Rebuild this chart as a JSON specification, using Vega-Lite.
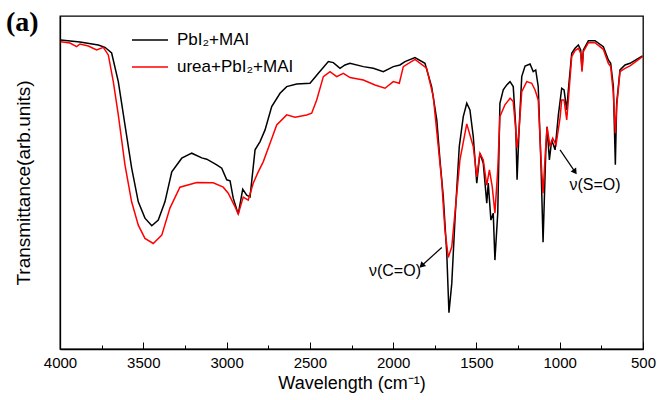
{
  "$schema": "https://vega.github.io/schema/vega-lite/v6.json",
  "width": 583,
  "height": 333,
  "autosize": "none",
  "padding": {"left": 60, "top": 16, "right": 14, "bottom": 51},
  "background": "white",
  "config": {
    "view": {"stroke": "black", "strokeWidth": 1.3},
    "font": "Liberation Sans",
    "axis": {"grid": false, "domainColor": "black", "domainWidth": 1.3, "tickColor": "black", "labelColor": "black", "titleColor": "black", "titleFontWeight": "normal"}
  },
  "title": {"text": "(a)", "anchor": "start", "frame": "group", "dx": -54, "offset": 0, "baseline": "top", "dy": 21, "font": "Liberation Serif", "fontSize": 28, "fontWeight": "bold", "color": "black"},
  "datasets": {
    "spectra": [
      {"sample": "PbI₂+MAI", "wavenumber": 3996, "transmittance": 92.8},
      {"sample": "PbI₂+MAI", "wavenumber": 3880, "transmittance": 92.2},
      {"sample": "PbI₂+MAI", "wavenumber": 3770, "transmittance": 91.3},
      {"sample": "PbI₂+MAI", "wavenumber": 3730, "transmittance": 90.6},
      {"sample": "PbI₂+MAI", "wavenumber": 3690, "transmittance": 88.9},
      {"sample": "PbI₂+MAI", "wavenumber": 3650, "transmittance": 80.3},
      {"sample": "PbI₂+MAI", "wavenumber": 3610, "transmittance": 67.3},
      {"sample": "PbI₂+MAI", "wavenumber": 3570, "transmittance": 54.4},
      {"sample": "PbI₂+MAI", "wavenumber": 3530, "transmittance": 44.2},
      {"sample": "PbI₂+MAI", "wavenumber": 3490, "transmittance": 39.3},
      {"sample": "PbI₂+MAI", "wavenumber": 3449, "transmittance": 37.0},
      {"sample": "PbI₂+MAI", "wavenumber": 3410, "transmittance": 38.7},
      {"sample": "PbI₂+MAI", "wavenumber": 3370, "transmittance": 44.2},
      {"sample": "PbI₂+MAI", "wavenumber": 3329, "transmittance": 53.2},
      {"sample": "PbI₂+MAI", "wavenumber": 3269, "transmittance": 57.3},
      {"sample": "PbI₂+MAI", "wavenumber": 3209, "transmittance": 58.8},
      {"sample": "PbI₂+MAI", "wavenumber": 3149, "transmittance": 57.4},
      {"sample": "PbI₂+MAI", "wavenumber": 3119, "transmittance": 57.0},
      {"sample": "PbI₂+MAI", "wavenumber": 3059, "transmittance": 55.3},
      {"sample": "PbI₂+MAI", "wavenumber": 3029, "transmittance": 54.3},
      {"sample": "PbI₂+MAI", "wavenumber": 2999, "transmittance": 50.8},
      {"sample": "PbI₂+MAI", "wavenumber": 2979, "transmittance": 50.5},
      {"sample": "PbI₂+MAI", "wavenumber": 2960, "transmittance": 45.3},
      {"sample": "PbI₂+MAI", "wavenumber": 2930, "transmittance": 40.5},
      {"sample": "PbI₂+MAI", "wavenumber": 2903, "transmittance": 48.0},
      {"sample": "PbI₂+MAI", "wavenumber": 2879, "transmittance": 46.2},
      {"sample": "PbI₂+MAI", "wavenumber": 2859, "transmittance": 45.7},
      {"sample": "PbI₂+MAI", "wavenumber": 2829, "transmittance": 59.8},
      {"sample": "PbI₂+MAI", "wavenumber": 2799, "transmittance": 62.3},
      {"sample": "PbI₂+MAI", "wavenumber": 2769, "transmittance": 65.8},
      {"sample": "PbI₂+MAI", "wavenumber": 2729, "transmittance": 72.8},
      {"sample": "PbI₂+MAI", "wavenumber": 2679, "transmittance": 76.8},
      {"sample": "PbI₂+MAI", "wavenumber": 2639, "transmittance": 78.8},
      {"sample": "PbI₂+MAI", "wavenumber": 2579, "transmittance": 79.6},
      {"sample": "PbI₂+MAI", "wavenumber": 2499, "transmittance": 79.8},
      {"sample": "PbI₂+MAI", "wavenumber": 2449, "transmittance": 82.8},
      {"sample": "PbI₂+MAI", "wavenumber": 2389, "transmittance": 86.3},
      {"sample": "PbI₂+MAI", "wavenumber": 2359, "transmittance": 86.0},
      {"sample": "PbI₂+MAI", "wavenumber": 2319, "transmittance": 84.3},
      {"sample": "PbI₂+MAI", "wavenumber": 2289, "transmittance": 85.3},
      {"sample": "PbI₂+MAI", "wavenumber": 2259, "transmittance": 85.8},
      {"sample": "PbI₂+MAI", "wavenumber": 2179, "transmittance": 84.8},
      {"sample": "PbI₂+MAI", "wavenumber": 2119, "transmittance": 84.3},
      {"sample": "PbI₂+MAI", "wavenumber": 2059, "transmittance": 83.3},
      {"sample": "PbI₂+MAI", "wavenumber": 1999, "transmittance": 84.8},
      {"sample": "PbI₂+MAI", "wavenumber": 1959, "transmittance": 85.3},
      {"sample": "PbI₂+MAI", "wavenumber": 1929, "transmittance": 86.3},
      {"sample": "PbI₂+MAI", "wavenumber": 1869, "transmittance": 87.5},
      {"sample": "PbI₂+MAI", "wavenumber": 1809, "transmittance": 85.8},
      {"sample": "PbI₂+MAI", "wavenumber": 1769, "transmittance": 78.8},
      {"sample": "PbI₂+MAI", "wavenumber": 1738, "transmittance": 68.8},
      {"sample": "PbI₂+MAI", "wavenumber": 1719, "transmittance": 56.8},
      {"sample": "PbI₂+MAI", "wavenumber": 1699, "transmittance": 45.7},
      {"sample": "PbI₂+MAI", "wavenumber": 1678, "transmittance": 28.7},
      {"sample": "PbI₂+MAI", "wavenumber": 1665, "transmittance": 10.9},
      {"sample": "PbI₂+MAI", "wavenumber": 1648, "transmittance": 19.7},
      {"sample": "PbI₂+MAI", "wavenumber": 1629, "transmittance": 38.7},
      {"sample": "PbI₂+MAI", "wavenumber": 1603, "transmittance": 60.8},
      {"sample": "PbI₂+MAI", "wavenumber": 1579, "transmittance": 69.8},
      {"sample": "PbI₂+MAI", "wavenumber": 1558, "transmittance": 73.8},
      {"sample": "PbI₂+MAI", "wavenumber": 1539, "transmittance": 71.8},
      {"sample": "PbI₂+MAI", "wavenumber": 1519, "transmittance": 63.8},
      {"sample": "PbI₂+MAI", "wavenumber": 1498, "transmittance": 49.8},
      {"sample": "PbI₂+MAI", "wavenumber": 1479, "transmittance": 58.8},
      {"sample": "PbI₂+MAI", "wavenumber": 1459, "transmittance": 55.8},
      {"sample": "PbI₂+MAI", "wavenumber": 1438, "transmittance": 43.8},
      {"sample": "PbI₂+MAI", "wavenumber": 1429, "transmittance": 49.8},
      {"sample": "PbI₂+MAI", "wavenumber": 1413, "transmittance": 38.7},
      {"sample": "PbI₂+MAI", "wavenumber": 1399, "transmittance": 40.8},
      {"sample": "PbI₂+MAI", "wavenumber": 1389, "transmittance": 26.7},
      {"sample": "PbI₂+MAI", "wavenumber": 1372, "transmittance": 40.8},
      {"sample": "PbI₂+MAI", "wavenumber": 1359, "transmittance": 73.8},
      {"sample": "PbI₂+MAI", "wavenumber": 1339, "transmittance": 77.8},
      {"sample": "PbI₂+MAI", "wavenumber": 1318, "transmittance": 79.3},
      {"sample": "PbI₂+MAI", "wavenumber": 1298, "transmittance": 80.3},
      {"sample": "PbI₂+MAI", "wavenumber": 1279, "transmittance": 78.8},
      {"sample": "PbI₂+MAI", "wavenumber": 1264, "transmittance": 66.8},
      {"sample": "PbI₂+MAI", "wavenumber": 1256, "transmittance": 50.8},
      {"sample": "PbI₂+MAI", "wavenumber": 1244, "transmittance": 65.8},
      {"sample": "PbI₂+MAI", "wavenumber": 1228, "transmittance": 81.8},
      {"sample": "PbI₂+MAI", "wavenumber": 1208, "transmittance": 85.0},
      {"sample": "PbI₂+MAI", "wavenumber": 1178, "transmittance": 85.6},
      {"sample": "PbI₂+MAI", "wavenumber": 1159, "transmittance": 83.3},
      {"sample": "PbI₂+MAI", "wavenumber": 1144, "transmittance": 83.8},
      {"sample": "PbI₂+MAI", "wavenumber": 1129, "transmittance": 78.8},
      {"sample": "PbI₂+MAI", "wavenumber": 1112, "transmittance": 54.7},
      {"sample": "PbI₂+MAI", "wavenumber": 1100, "transmittance": 32.1},
      {"sample": "PbI₂+MAI", "wavenumber": 1084, "transmittance": 58.8},
      {"sample": "PbI₂+MAI", "wavenumber": 1076, "transmittance": 66.7},
      {"sample": "PbI₂+MAI", "wavenumber": 1062, "transmittance": 56.8},
      {"sample": "PbI₂+MAI", "wavenumber": 1048, "transmittance": 62.8},
      {"sample": "PbI₂+MAI", "wavenumber": 1028, "transmittance": 59.8},
      {"sample": "PbI₂+MAI", "wavenumber": 1008, "transmittance": 70.3},
      {"sample": "PbI₂+MAI", "wavenumber": 988, "transmittance": 78.3},
      {"sample": "PbI₂+MAI", "wavenumber": 974, "transmittance": 77.8},
      {"sample": "PbI₂+MAI", "wavenumber": 958, "transmittance": 71.8},
      {"sample": "PbI₂+MAI", "wavenumber": 948, "transmittance": 77.8},
      {"sample": "PbI₂+MAI", "wavenumber": 928, "transmittance": 88.8},
      {"sample": "PbI₂+MAI", "wavenumber": 908, "transmittance": 90.3},
      {"sample": "PbI₂+MAI", "wavenumber": 888, "transmittance": 91.3},
      {"sample": "PbI₂+MAI", "wavenumber": 874, "transmittance": 89.8},
      {"sample": "PbI₂+MAI", "wavenumber": 866, "transmittance": 83.8},
      {"sample": "PbI₂+MAI", "wavenumber": 858, "transmittance": 89.8},
      {"sample": "PbI₂+MAI", "wavenumber": 828, "transmittance": 92.6},
      {"sample": "PbI₂+MAI", "wavenumber": 788, "transmittance": 92.6},
      {"sample": "PbI₂+MAI", "wavenumber": 738, "transmittance": 90.8},
      {"sample": "PbI₂+MAI", "wavenumber": 708, "transmittance": 86.8},
      {"sample": "PbI₂+MAI", "wavenumber": 694, "transmittance": 85.8},
      {"sample": "PbI₂+MAI", "wavenumber": 678, "transmittance": 78.8},
      {"sample": "PbI₂+MAI", "wavenumber": 666, "transmittance": 55.3},
      {"sample": "PbI₂+MAI", "wavenumber": 658, "transmittance": 73.8},
      {"sample": "PbI₂+MAI", "wavenumber": 638, "transmittance": 83.8},
      {"sample": "PbI₂+MAI", "wavenumber": 608, "transmittance": 85.3},
      {"sample": "PbI₂+MAI", "wavenumber": 578, "transmittance": 85.8},
      {"sample": "PbI₂+MAI", "wavenumber": 503, "transmittance": 88.0},
      {"sample": "urea+PbI₂+MAI", "wavenumber": 3996, "transmittance": 92.3},
      {"sample": "urea+PbI₂+MAI", "wavenumber": 3940, "transmittance": 91.9},
      {"sample": "urea+PbI₂+MAI", "wavenumber": 3900, "transmittance": 90.8},
      {"sample": "urea+PbI₂+MAI", "wavenumber": 3880, "transmittance": 91.6},
      {"sample": "urea+PbI₂+MAI", "wavenumber": 3830, "transmittance": 91.0},
      {"sample": "urea+PbI₂+MAI", "wavenumber": 3780, "transmittance": 89.8},
      {"sample": "urea+PbI₂+MAI", "wavenumber": 3740, "transmittance": 90.6},
      {"sample": "urea+PbI₂+MAI", "wavenumber": 3710, "transmittance": 88.3},
      {"sample": "urea+PbI₂+MAI", "wavenumber": 3680, "transmittance": 80.3},
      {"sample": "urea+PbI₂+MAI", "wavenumber": 3650, "transmittance": 70.3},
      {"sample": "urea+PbI₂+MAI", "wavenumber": 3610, "transmittance": 55.3},
      {"sample": "urea+PbI₂+MAI", "wavenumber": 3570, "transmittance": 44.2},
      {"sample": "urea+PbI₂+MAI", "wavenumber": 3530, "transmittance": 37.2},
      {"sample": "urea+PbI₂+MAI", "wavenumber": 3490, "transmittance": 33.2},
      {"sample": "urea+PbI₂+MAI", "wavenumber": 3440, "transmittance": 31.7},
      {"sample": "urea+PbI₂+MAI", "wavenumber": 3389, "transmittance": 34.2},
      {"sample": "urea+PbI₂+MAI", "wavenumber": 3340, "transmittance": 42.3},
      {"sample": "urea+PbI₂+MAI", "wavenumber": 3280, "transmittance": 48.6},
      {"sample": "urea+PbI₂+MAI", "wavenumber": 3179, "transmittance": 50.0},
      {"sample": "urea+PbI₂+MAI", "wavenumber": 3080, "transmittance": 49.9},
      {"sample": "urea+PbI₂+MAI", "wavenumber": 3020, "transmittance": 48.6},
      {"sample": "urea+PbI₂+MAI", "wavenumber": 2990, "transmittance": 46.8},
      {"sample": "urea+PbI₂+MAI", "wavenumber": 2949, "transmittance": 42.7},
      {"sample": "urea+PbI₂+MAI", "wavenumber": 2930, "transmittance": 40.5},
      {"sample": "urea+PbI₂+MAI", "wavenumber": 2900, "transmittance": 45.6},
      {"sample": "urea+PbI₂+MAI", "wavenumber": 2870, "transmittance": 44.7},
      {"sample": "urea+PbI₂+MAI", "wavenumber": 2840, "transmittance": 49.8},
      {"sample": "urea+PbI₂+MAI", "wavenumber": 2810, "transmittance": 53.2},
      {"sample": "urea+PbI₂+MAI", "wavenumber": 2780, "transmittance": 56.2},
      {"sample": "urea+PbI₂+MAI", "wavenumber": 2739, "transmittance": 61.8},
      {"sample": "urea+PbI₂+MAI", "wavenumber": 2699, "transmittance": 67.3},
      {"sample": "urea+PbI₂+MAI", "wavenumber": 2639, "transmittance": 70.3},
      {"sample": "urea+PbI₂+MAI", "wavenumber": 2589, "transmittance": 69.6},
      {"sample": "urea+PbI₂+MAI", "wavenumber": 2519, "transmittance": 70.3},
      {"sample": "urea+PbI₂+MAI", "wavenumber": 2489, "transmittance": 70.8},
      {"sample": "urea+PbI₂+MAI", "wavenumber": 2459, "transmittance": 74.8},
      {"sample": "urea+PbI₂+MAI", "wavenumber": 2419, "transmittance": 81.8},
      {"sample": "urea+PbI₂+MAI", "wavenumber": 2379, "transmittance": 83.3},
      {"sample": "urea+PbI₂+MAI", "wavenumber": 2339, "transmittance": 81.8},
      {"sample": "urea+PbI₂+MAI", "wavenumber": 2299, "transmittance": 82.8},
      {"sample": "urea+PbI₂+MAI", "wavenumber": 2259, "transmittance": 81.5},
      {"sample": "urea+PbI₂+MAI", "wavenumber": 2179, "transmittance": 80.8},
      {"sample": "urea+PbI₂+MAI", "wavenumber": 2109, "transmittance": 79.3},
      {"sample": "urea+PbI₂+MAI", "wavenumber": 2049, "transmittance": 78.3},
      {"sample": "urea+PbI₂+MAI", "wavenumber": 1999, "transmittance": 80.3},
      {"sample": "urea+PbI₂+MAI", "wavenumber": 1963, "transmittance": 79.8},
      {"sample": "urea+PbI₂+MAI", "wavenumber": 1939, "transmittance": 84.8},
      {"sample": "urea+PbI₂+MAI", "wavenumber": 1869, "transmittance": 87.0},
      {"sample": "urea+PbI₂+MAI", "wavenumber": 1799, "transmittance": 84.3},
      {"sample": "urea+PbI₂+MAI", "wavenumber": 1759, "transmittance": 75.8},
      {"sample": "urea+PbI₂+MAI", "wavenumber": 1729, "transmittance": 60.8},
      {"sample": "urea+PbI₂+MAI", "wavenumber": 1709, "transmittance": 50.8},
      {"sample": "urea+PbI₂+MAI", "wavenumber": 1689, "transmittance": 35.7},
      {"sample": "urea+PbI₂+MAI", "wavenumber": 1669, "transmittance": 27.5},
      {"sample": "urea+PbI₂+MAI", "wavenumber": 1648, "transmittance": 30.7},
      {"sample": "urea+PbI₂+MAI", "wavenumber": 1629, "transmittance": 40.8},
      {"sample": "urea+PbI₂+MAI", "wavenumber": 1599, "transmittance": 56.8},
      {"sample": "urea+PbI₂+MAI", "wavenumber": 1558, "transmittance": 67.6},
      {"sample": "urea+PbI₂+MAI", "wavenumber": 1519, "transmittance": 60.8},
      {"sample": "urea+PbI₂+MAI", "wavenumber": 1498, "transmittance": 51.7},
      {"sample": "urea+PbI₂+MAI", "wavenumber": 1479, "transmittance": 58.8},
      {"sample": "urea+PbI₂+MAI", "wavenumber": 1459, "transmittance": 56.8},
      {"sample": "urea+PbI₂+MAI", "wavenumber": 1438, "transmittance": 49.2},
      {"sample": "urea+PbI₂+MAI", "wavenumber": 1422, "transmittance": 53.8},
      {"sample": "urea+PbI₂+MAI", "wavenumber": 1405, "transmittance": 48.7},
      {"sample": "urea+PbI₂+MAI", "wavenumber": 1389, "transmittance": 40.8},
      {"sample": "urea+PbI₂+MAI", "wavenumber": 1372, "transmittance": 53.8},
      {"sample": "urea+PbI₂+MAI", "wavenumber": 1359, "transmittance": 69.8},
      {"sample": "urea+PbI₂+MAI", "wavenumber": 1329, "transmittance": 73.3},
      {"sample": "urea+PbI₂+MAI", "wavenumber": 1298, "transmittance": 75.3},
      {"sample": "urea+PbI₂+MAI", "wavenumber": 1279, "transmittance": 74.3},
      {"sample": "urea+PbI₂+MAI", "wavenumber": 1264, "transmittance": 65.8},
      {"sample": "urea+PbI₂+MAI", "wavenumber": 1256, "transmittance": 60.3},
      {"sample": "urea+PbI₂+MAI", "wavenumber": 1244, "transmittance": 65.8},
      {"sample": "urea+PbI₂+MAI", "wavenumber": 1228, "transmittance": 77.3},
      {"sample": "urea+PbI₂+MAI", "wavenumber": 1198, "transmittance": 80.3},
      {"sample": "urea+PbI₂+MAI", "wavenumber": 1168, "transmittance": 79.8},
      {"sample": "urea+PbI₂+MAI", "wavenumber": 1148, "transmittance": 77.8},
      {"sample": "urea+PbI₂+MAI", "wavenumber": 1129, "transmittance": 74.8},
      {"sample": "urea+PbI₂+MAI", "wavenumber": 1112, "transmittance": 56.8},
      {"sample": "urea+PbI₂+MAI", "wavenumber": 1100, "transmittance": 46.8},
      {"sample": "urea+PbI₂+MAI", "wavenumber": 1084, "transmittance": 60.8},
      {"sample": "urea+PbI₂+MAI", "wavenumber": 1076, "transmittance": 66.7},
      {"sample": "urea+PbI₂+MAI", "wavenumber": 1058, "transmittance": 60.8},
      {"sample": "urea+PbI₂+MAI", "wavenumber": 1042, "transmittance": 63.3},
      {"sample": "urea+PbI₂+MAI", "wavenumber": 1022, "transmittance": 61.3},
      {"sample": "urea+PbI₂+MAI", "wavenumber": 998, "transmittance": 69.4},
      {"sample": "urea+PbI₂+MAI", "wavenumber": 988, "transmittance": 74.8},
      {"sample": "urea+PbI₂+MAI", "wavenumber": 974, "transmittance": 74.8},
      {"sample": "urea+PbI₂+MAI", "wavenumber": 958, "transmittance": 68.8},
      {"sample": "urea+PbI₂+MAI", "wavenumber": 948, "transmittance": 74.8},
      {"sample": "urea+PbI₂+MAI", "wavenumber": 928, "transmittance": 87.8},
      {"sample": "urea+PbI₂+MAI", "wavenumber": 908, "transmittance": 89.6},
      {"sample": "urea+PbI₂+MAI", "wavenumber": 888, "transmittance": 90.3},
      {"sample": "urea+PbI₂+MAI", "wavenumber": 874, "transmittance": 88.8},
      {"sample": "urea+PbI₂+MAI", "wavenumber": 866, "transmittance": 83.3},
      {"sample": "urea+PbI₂+MAI", "wavenumber": 858, "transmittance": 89.3},
      {"sample": "urea+PbI₂+MAI", "wavenumber": 828, "transmittance": 92.0},
      {"sample": "urea+PbI₂+MAI", "wavenumber": 788, "transmittance": 92.0},
      {"sample": "urea+PbI₂+MAI", "wavenumber": 738, "transmittance": 90.0},
      {"sample": "urea+PbI₂+MAI", "wavenumber": 708, "transmittance": 85.8},
      {"sample": "urea+PbI₂+MAI", "wavenumber": 694, "transmittance": 84.8},
      {"sample": "urea+PbI₂+MAI", "wavenumber": 678, "transmittance": 76.8},
      {"sample": "urea+PbI₂+MAI", "wavenumber": 666, "transmittance": 64.8},
      {"sample": "urea+PbI₂+MAI", "wavenumber": 658, "transmittance": 72.8},
      {"sample": "urea+PbI₂+MAI", "wavenumber": 638, "transmittance": 83.3},
      {"sample": "urea+PbI₂+MAI", "wavenumber": 608, "transmittance": 84.3},
      {"sample": "urea+PbI₂+MAI", "wavenumber": 578, "transmittance": 85.0},
      {"sample": "urea+PbI₂+MAI", "wavenumber": 503, "transmittance": 87.8}
    ],
    "arrows": [
      {"label": "ν(C=O)", "wavenumber": 1708, "transmittance": 30.5, "x_end": 1829, "y_end": 25.0, "angle": 225, "text_x": 1989, "text_y": 23.5},
      {"label": "ν(S=O)", "wavenumber": 998, "transmittance": 59.8, "x_end": 908, "y_end": 53.2, "angle": 145, "text_x": 788, "text_y": 49.2}
    ]
  },
  "layer": [
    {
      "data": {"name": "spectra"},
      "mark": {"type": "line", "strokeWidth": 1.5},
      "encoding": {
        "x": {
          "field": "wavenumber", "type": "quantitative",
          "scale": {"domain": [4000, 500], "nice": false, "zero": false},
          "axis": {
            "title": "Wavelength (cm⁻¹)",
            "values": [4000, 3750, 3500, 3250, 3000, 2750, 2500, 2250, 2000, 1750, 1500, 1250, 1000, 750, 500],
            "labelExpr": "datum.value % 500 === 0 ? datum.label : ''",
            "format": "d",
            "tickSize": {"condition": {"test": "datum.value % 500 === 0", "value": -7}, "value": -4},
            "labelPadding": 13,
            "labelFontSize": 15,
            "labelFlush": false,
            "labelOverlap": false,
            "titleFontSize": 18,
            "titlePadding": 1
          }
        },
        "y": {
          "field": "transmittance", "type": "quantitative",
          "scale": {"domain": [0, 100], "nice": false, "zero": false},
          "axis": {"title": "Transmittance(arb.units)", "labels": false, "ticks": false, "titleFontSize": 19, "titlePadding": 27}
        },
        "color": {
          "field": "sample", "type": "nominal",
          "scale": {"domain": ["PbI₂+MAI", "urea+PbI₂+MAI"], "range": ["#000000", "#ff0000"]},
          "legend": {
            "orient": "none", "legendX": 71, "legendY": 5, "title": null,
            "symbolType": "stroke", "symbolSize": 1296, "symbolStrokeWidth": 1.5,
            "labelFontSize": 17, "labelOffset": 8, "rowPadding": -13, "padding": 0,
            "labelColor": "black"
          }
        }
      }
    },
    {
      "data": {"name": "arrows"},
      "mark": {"type": "rule", "color": "black", "strokeWidth": 1.2},
      "encoding": {
        "x": {"field": "wavenumber", "type": "quantitative"},
        "y": {"field": "transmittance", "type": "quantitative"},
        "x2": {"field": "x_end"},
        "y2": {"field": "y_end"}
      }
    },
    {
      "data": {"name": "arrows"},
      "mark": {"type": "point", "shape": "triangle-up", "filled": true, "color": "black", "size": 45, "opacity": 1},
      "encoding": {
        "x": {"field": "x_end", "type": "quantitative"},
        "y": {"field": "y_end", "type": "quantitative"},
        "angle": {"field": "angle", "type": "quantitative", "scale": null}
      }
    },
    {
      "data": {"name": "arrows"},
      "mark": {"type": "text", "fontSize": 16, "color": "black", "align": "center", "baseline": "middle"},
      "encoding": {
        "x": {"field": "text_x", "type": "quantitative"},
        "y": {"field": "text_y", "type": "quantitative"},
        "text": {"field": "label"}
      }
    }
  ]
}
